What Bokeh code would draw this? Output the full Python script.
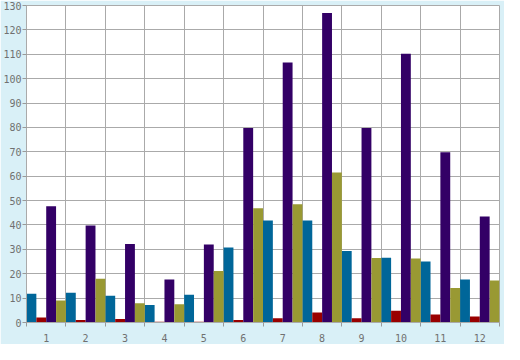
from bokeh.plotting import figure
from bokeh.models import FixedTicker, Range1d, ColumnDataSource
from bokeh.embed import file_html
from bokeh.resources import INLINE

categories = ["1", "2", "3", "4", "5", "6", "7", "8", "9", "10", "11", "12"]
teal = [11.8, 12.2, 11.0, 7.2, 11.4, 30.8, 41.8, 41.8, 29.3, 26.6, 25.0, 17.6]
red = [2.1, 1.0, 1.4, 0.3, 0.3, 1.0, 1.7, 4.1, 1.7, 4.8, 3.3, 2.5]
purple = [47.7, 39.8, 32.2, 17.6, 32.0, 79.8, 106.6, 126.9, 79.8, 110.2, 69.8, 43.5]
olive = [9.0, 17.9, 7.9, 7.5, 21.1, 46.9, 48.5, 61.5, 26.5, 26.2, 14.1, 17.2]
y_ticks = list(range(0, 131, 10))

series = [teal, red, purple, olive]
colors = ["#006699", "#990000", "#330066", "#999933"]

TEXT = "#707070"
GRID = "#aaaaaa"
FONT = "DejaVu Sans Mono"

n = len(categories)
p = figure(width=504, height=344, output_backend="svg", toolbar_location=None,
           x_range=Range1d(0, n), y_range=Range1d(0, 130),
           min_border_left=24, min_border_right=5, min_border_top=5,
           min_border_bottom=16)

p.border_fill_color = "#d9f0f7"
p.background_fill_color = "white"
p.outline_line_color = GRID

w = 1.0 / len(series)
for k, (vals, c) in enumerate(zip(series, colors)):
    xs = [i + w * (k + 0.5) for i in range(n)]
    src = ColumnDataSource(dict(x=xs, top=vals))
    p.vbar(x="x", top="top", bottom=0, width=w, source=src,
           fill_color=c, line_color=None)

centers = [i + 0.5 for i in range(n)]
bounds = list(range(0, n + 1))

p.xaxis.ticker = FixedTicker(ticks=centers, minor_ticks=bounds)
p.xaxis.major_label_overrides = {c: lab for c, lab in zip(centers, categories)}
p.xaxis.major_tick_line_color = None
p.xaxis.minor_tick_out = 4
p.xaxis.minor_tick_in = 0
p.xaxis.minor_tick_line_color = "#999999"
p.xaxis.axis_line_color = GRID
p.xaxis.major_label_standoff = 5

p.yaxis.ticker = FixedTicker(ticks=y_ticks)
p.yaxis.major_tick_out = 4
p.yaxis.major_tick_in = 0
p.yaxis.minor_tick_line_color = None
p.yaxis.major_tick_line_color = "#999999"
p.yaxis.axis_line_color = GRID
p.yaxis.major_label_standoff = 1

for ax in (p.xaxis, p.yaxis):
    ax.major_label_text_font = FONT
    ax.major_label_text_font_size = "10px"
    ax.major_label_text_color = TEXT

p.xgrid.ticker = FixedTicker(ticks=bounds)
p.ygrid.ticker = FixedTicker(ticks=y_ticks)
p.xgrid.grid_line_color = GRID
p.ygrid.grid_line_color = GRID
p.xgrid.grid_line_alpha = 1
p.ygrid.grid_line_alpha = 1

open("out.html", "w").write(file_html(p, INLINE))
